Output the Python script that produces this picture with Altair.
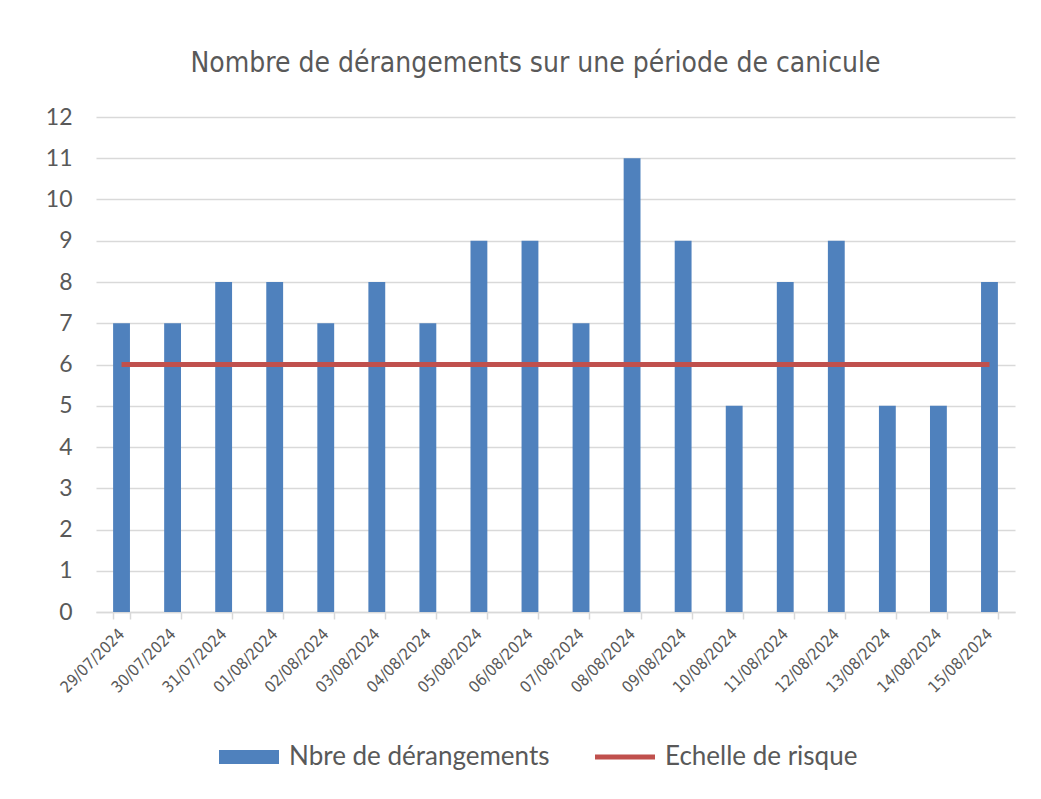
import altair as alt
import pandas as pd

dates = ["29/07/2024", "30/07/2024", "31/07/2024", "01/08/2024", "02/08/2024",
         "03/08/2024", "04/08/2024", "05/08/2024", "06/08/2024", "07/08/2024",
         "08/08/2024", "09/08/2024", "10/08/2024", "11/08/2024", "12/08/2024",
         "13/08/2024", "14/08/2024", "15/08/2024"]
derangements = [7, 7, 8, 8, 7, 8, 7, 9, 9, 7, 11, 9, 5, 8, 9, 5, 5, 8]
risque = [6, 6, 6, 6, 6, 6, 6, 6, 6, 6, 6, 6, 6, 6, 6, 6, 6, 6]
y_ticks = list(range(0, 13))

series_names = ["Nbre de dérangements", "Echelle de risque"]
series_colors = ["#4F81BD", "#C0504D"]
legend_shapes = ["M-1,-0.233H1V0.233H-1Z", "M-1,-0.08H1V0.08H-1Z"]

title_text = "Nombre de dérangements sur une période de canicule"

COND = "Liberation Sans Narrow, DejaVu Sans Condensed, DejaVu Sans"
BODY = "Lato, Noto Sans, sans-serif"
GREY = "#595959"

df = pd.DataFrame({"date": dates, "n": derangements, "risque": risque})
legend_df = pd.DataFrame({"serie": series_names, "date": dates[:2], "v": [0, 0]})

x_enc = alt.X(
    "date:N", sort=dates, title=None,
    scale=alt.Scale(paddingInner=0.67, paddingOuter=0.335),
    axis=alt.Axis(labelAngle=-45, labelAlign="right", labelBaseline="middle",
                  labelFont=COND, labelFontSize=16, labelColor=GREY,
                  labelPadding=12, domainColor="#D9D9D9", domainWidth=1.5,
                  tickColor="#D9D9D9", tickWidth=1.5, tickSize=7,
                  tickBand="extent", grid=False, labelOverlap=False),
)
y_scale = alt.Scale(domain=[0, 12], nice=False)
y_axis = alt.Axis(values=y_ticks, grid=True, gridColor="#D9D9D9", gridWidth=1.5,
                  domain=False, ticks=False, labelFont=BODY, labelFontSize=23,
                  labelColor=GREY, labelPadding=24, title=None)

bars = alt.Chart(df).mark_bar(color=series_colors[0]).encode(
    x=x_enc,
    y=alt.Y("n:Q", scale=y_scale, axis=y_axis),
)

line = alt.Chart(df).mark_line(color=series_colors[1], strokeWidth=5).encode(
    x=alt.X("date:N", sort=dates),
    y=alt.Y("risque:Q", scale=y_scale),
)

legend_layer = alt.Chart(legend_df).transform_filter("false").mark_point(
    filled=True
).encode(
    x=alt.X("date:N", sort=dates),
    y=alt.Y("v:Q", scale=y_scale),
    color=alt.Color("serie:N",
                    scale=alt.Scale(domain=series_names, range=series_colors),
                    legend=alt.Legend(title=None)),
    shape=alt.Shape("serie:N",
                    scale=alt.Scale(domain=series_names, range=legend_shapes),
                    legend=alt.Legend(title=None)),
)

chart = alt.layer(bars, line, legend_layer).properties(
    width=919, height=495,
    title=alt.TitleParams(title_text, font=COND, fontSize=28, color=GREY,
                          fontWeight="normal", anchor="middle", offset=28, dx=-20),
    autosize=alt.AutoSizeParams(type="none"),
    padding={"left": 88, "top": 109, "right": 18, "bottom": 179},
).configure_view(stroke=None).configure_legend(
    orient="none", legendX=123, legendY=610, direction="horizontal", columns=2,
    symbolSize=3600, symbolStrokeWidth=0, symbolOpacity=1,
    labelFont=BODY, labelFontSize=26, labelColor=GREY, labelOffset=10,
    columnPadding=45, labelLimit=400,
)

chart.save("out.html", embed_options={"renderer": "svg", "actions": False})
